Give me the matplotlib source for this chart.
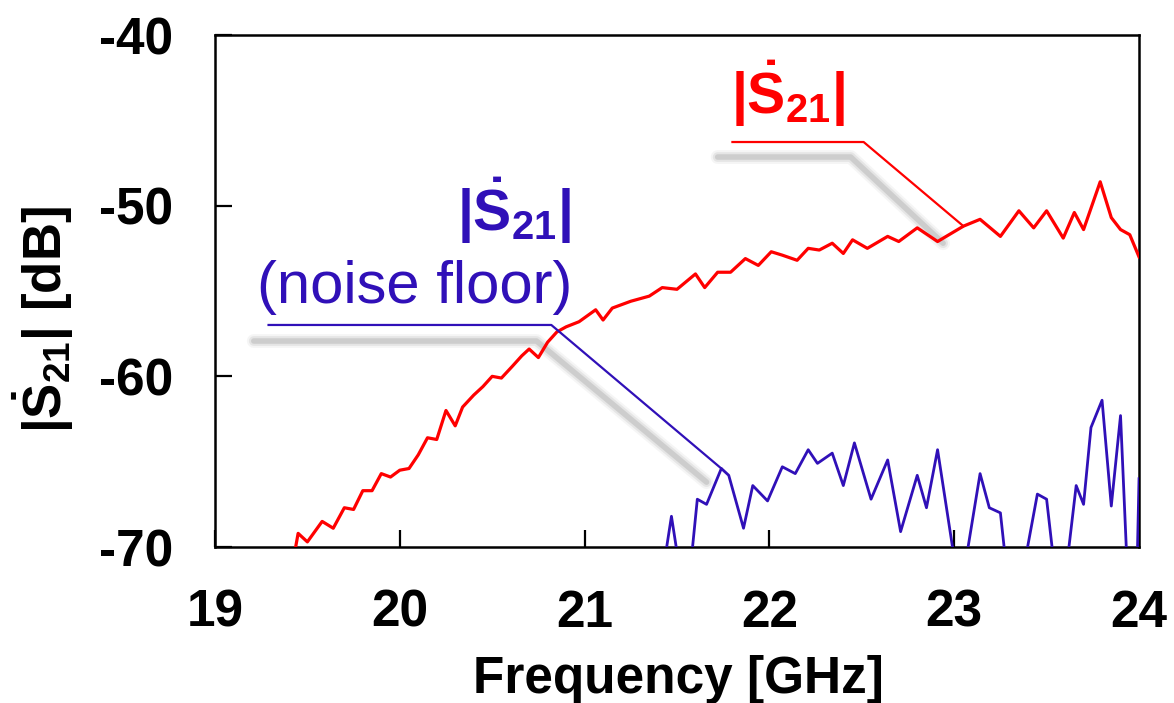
import matplotlib
matplotlib.use("Agg")
import matplotlib.pyplot as plt

# |S21| transmission (red)
red_f = [19.42, 19.45, 19.50, 19.58, 19.64, 19.70, 19.75, 19.80, 19.85, 19.90,
         19.95, 20.00, 20.05, 20.10, 20.15, 20.20, 20.25, 20.30, 20.34, 20.40,
         20.45, 20.50, 20.55, 20.61, 20.66, 20.70, 20.75, 20.80, 20.85, 20.90,
         20.97, 21.06, 21.10, 21.15, 21.25, 21.35, 21.42, 21.50, 21.60, 21.65,
         21.72, 21.79, 21.87, 21.94, 22.01, 22.07, 22.15, 22.21, 22.27, 22.34,
         22.40, 22.45, 22.53, 22.64, 22.70, 22.80, 22.91, 23.05, 23.14, 23.25,
         23.35, 23.43, 23.50, 23.59, 23.65, 23.70, 23.79, 23.85, 23.90, 23.95,
         24.00]
red_db = [-71.0, -69.2, -69.7, -68.5, -68.9, -67.7, -67.8, -66.7, -66.7, -65.7,
          -65.9, -65.5, -65.4, -64.6, -63.6, -63.7, -62.0, -62.9, -61.8, -61.1,
          -60.6, -60.0, -60.1, -59.4, -58.8, -58.4, -58.9, -58.0, -57.4, -57.1,
          -56.8, -56.1, -56.7, -56.0, -55.6, -55.3, -54.8, -54.9, -54.0, -54.8,
          -53.9, -53.9, -53.1, -53.5, -52.7, -52.9, -53.2, -52.5, -52.6, -52.2,
          -52.8, -52.0, -52.5, -51.8, -52.1, -51.3, -52.1, -51.2, -50.8, -51.8,
          -50.3, -51.3, -50.3, -51.9, -50.4, -51.4, -48.6, -50.7, -51.4, -51.7,
          -53.0]

# noise floor (blue), values under -70 are clipped by the axes
blue_f = [21.43, 21.47, 21.51, 21.575, 21.61, 21.66, 21.74, 21.78, 21.86, 21.91,
          21.99, 22.07, 22.14, 22.21, 22.26, 22.34, 22.40, 22.46, 22.55, 22.64,
          22.71, 22.80, 22.85, 22.91, 23.005, 23.06, 23.14, 23.19, 23.25, 23.28,
          23.38, 23.45, 23.50, 23.54, 23.61, 23.66, 23.70, 23.74, 23.80, 23.85,
          23.90, 23.935, 23.99, 24.00]
blue_db = [-71, -68.2, -71, -71, -67.2, -67.5, -65.4, -65.8, -68.9, -66.4,
           -67.3, -65.3, -65.7, -64.3, -65.1, -64.5, -66.4, -63.9, -67.2, -64.9,
           -69.1, -65.8, -67.7, -64.3, -71, -71, -65.7, -67.7, -68.0, -71,
           -71, -66.9, -67.2, -71, -71, -66.4, -67.5, -63.0, -61.4, -67.6,
           -62.3, -71, -71, -66.0]

x_ticks = [19, 20, 21, 22, 23, 24]
y_ticks = [-70, -60, -50, -40]

RED = "#FF0000"
BLUE = "#3010B8"

plt.rcParams["font.family"] = ["Liberation Sans", "DejaVu Sans"]
plt.rcParams["axes.unicode_minus"] = False
plt.rcParams["mathtext.fontset"] = "custom"
plt.rcParams["mathtext.rm"] = "Liberation Sans:bold"
plt.rcParams["mathtext.bf"] = "Liberation Sans:bold"
plt.rcParams["mathtext.it"] = "Liberation Sans:bold"
plt.rcParams["mathtext.default"] = "bf"

fig = plt.figure(figsize=(11.74, 7.03), dpi=100)
ax = fig.add_axes([0.1831, 0.2219, 0.7871, 0.7283])

ax.plot(red_f, red_db, color=RED, lw=2.3, zorder=3, solid_joinstyle="round")
ax.plot(blue_f, blue_db, color=BLUE, lw=2.0, zorder=3, solid_joinstyle="round")

ax.set_xlim(19, 24)
ax.set_ylim(-70, -40)
ax.set_xticks(x_ticks)
ax.set_yticks(y_ticks)
ax.tick_params(direction="in", length=12, width=1.6, top=False, right=False,
               labelsize=37)
ax.tick_params(axis="y", pad=30)
ax.tick_params(axis="x", pad=30)
for lab in ax.get_xticklabels() + ax.get_yticklabels():
    lab.set_fontweight("bold")
for sp in ax.spines.values():
    sp.set_linewidth(1.8)


def callout(xs, ys, sx, sy, color):
    # soft grey shadow first, then the leader line
    for w, a in [(10, 0.08), (7, 0.14), (4, 0.25)]:
        ax.plot(sx, sy, color="#888888", lw=w, alpha=a, clip_on=False,
                solid_capstyle="round", zorder=1)
    ax.plot(xs, ys, color=color, lw=1.6, clip_on=False, zorder=4)


# red callout ends on the red curve at 23.05 GHz
i = red_f.index(23.05)
callout([21.80, 22.51, red_f[i]], [-46.27, -46.27, red_db[i]],
        [21.72, 22.44, 22.94], [-47.15, -47.15, -52.2], RED)
ax.text(22.10, -43.45, r"$|\dot{S}_{21}|$", color=RED, fontsize=41,
        ha="center", va="center")

# blue callout ends on the noise peak at 21.74 GHz
j = blue_f.index(21.74)
callout([19.29, 20.82, blue_f[j]], [-56.99, -56.99, blue_db[j]],
        [19.21, 20.74, 21.66], [-57.93, -57.93, -66.2], BLUE)
ax.text(20.62, -50.3, r"$|\dot{S}_{21}|$", color=BLUE, fontsize=41,
        ha="center", va="center")
ax.text(20.08, -54.8, "(noise floor)", color=BLUE, fontsize=43,
        ha="center", va="center")

fig.text(0.5775, 0.0142, "Frequency [GHz]", fontsize=37, fontweight="bold",
         ha="center", va="baseline")
fig.text(0.037, 0.545, r"$|\dot{S}_{21}|$ [dB]", fontsize=38,
         fontweight="bold", rotation=90, ha="center", va="center")

fig.savefig("out.png", dpi=100)
